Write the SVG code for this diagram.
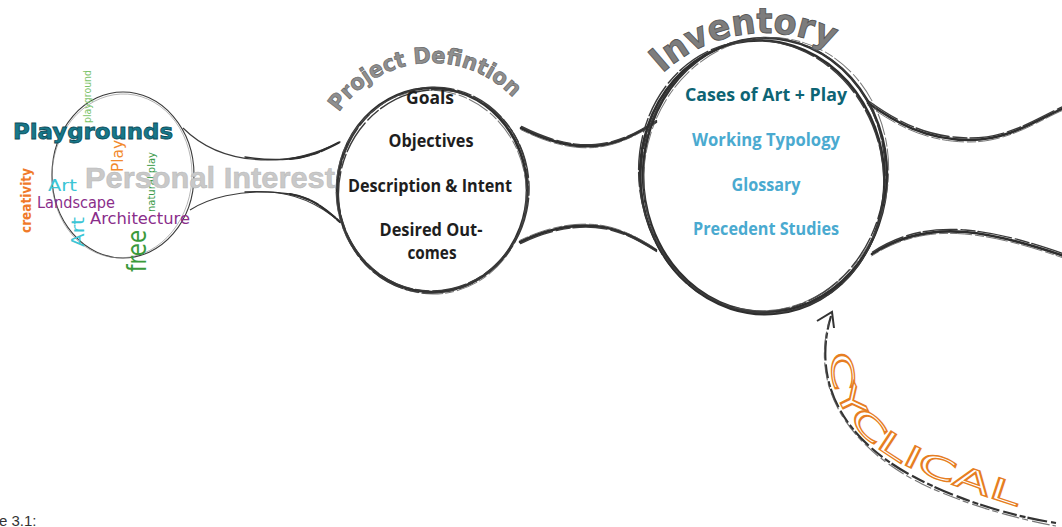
<svg xmlns="http://www.w3.org/2000/svg" xmlns:xlink="http://www.w3.org/1999/xlink" width="1062" height="527" viewBox="0 0 1062 527">
<style>
.k1{fill:none;stroke:#2e2e2e;stroke-width:2.6;stroke-linecap:round}
.k2{fill:none;stroke:#3a3a3a;stroke-width:1.4;stroke-dasharray:34 4 14 3;stroke-linecap:round}
.k3{fill:none;stroke:#555;stroke-width:1;opacity:.8;stroke-dasharray:9 2 22 3}
.thin{fill:none;stroke:#3c3c3c;stroke-width:1.1}
.mid{font-family:"Open Sans","Liberation Sans",sans-serif;font-weight:700;font-size:18px;fill:#1e1e1e;text-anchor:middle}
.inv{font-family:"Open Sans","Liberation Sans",sans-serif;font-weight:700;font-size:18px;text-anchor:middle}
.cloud{font-family:"DejaVu Sans","Liberation Sans",sans-serif}
.arc{font-family:"DejaVu Sans","Liberation Sans",sans-serif;font-weight:700}
</style>
<defs>
<path id="lu" d="M183 128 C205 150 235 160 268 160 C295 160 320 152 340 142"/>
<path id="ll" d="M190 210 C210 197 240 191 268 192 C295 193 320 205 340 222"/>
<path id="mu" d="M521 128 C545 140 570 148 595 146 C620 144 640 132 656 122"/>
<path id="ml" d="M520 242 C545 230 570 224 595 226 C620 228 640 240 656 250"/>
<path id="ru" d="M868 103 C895 122 925 140 970 140 C1010 140 1040 118 1064 108"/>
<path id="rl" d="M872 254 C900 236 930 229 965 232 C1000 235 1035 246 1064 256"/>
<ellipse id="cm" cx="432" cy="190" rx="95" ry="102"/>
<ellipse id="ci" cx="765" cy="175" rx="122" ry="137"/>
<path id="pdArc" d="M320 175 A112 112 0 0 1 544 175"/>
<path id="invArc" d="M615 183 A150 150 0 0 1 915 183"/>
<path id="cycArc" d="M832 350 C825 410 870 455 935 478 C965 489 998 501 1045 515"/>
</defs>

<g id="connectors">
<use href="#lu" class="thin"/>
<use href="#ll" class="thin"/>
<path d="M245 157 C262 160 275 160 290 159 C310 157 325 150 340 142" fill="none" stroke="#333" stroke-width="1.4" stroke-linecap="round"/>
<path d="M290 159 C310 157 325 150 340 142" fill="none" stroke="#2e2e2e" stroke-width="2.2" stroke-linecap="round" stroke-dasharray="20 2 8 2"/>
<path d="M245 192 C262 191 275 192 290 194 C310 197 325 208 340 222" fill="none" stroke="#333" stroke-width="1.4" stroke-linecap="round"/>
<path d="M290 194 C310 197 325 208 340 222" fill="none" stroke="#2e2e2e" stroke-width="2.2" stroke-linecap="round" stroke-dasharray="20 2 8 2"/>
<use href="#mu" class="k1"/><use href="#mu" class="k2" transform="translate(0.5,-1.5)"/><use href="#mu" class="k3" transform="translate(-0.5,1.5)"/>
<use href="#ml" class="k1"/><use href="#ml" class="k2" transform="translate(0.5,1.5)"/><use href="#ml" class="k3" transform="translate(-0.5,-1.5)"/>
<use href="#ru" class="k1" stroke-width="3"/><use href="#ru" class="k2" transform="translate(0.5,-2)"/><use href="#ru" class="k3" transform="translate(-0.5,2)"/>
<use href="#rl" class="k1" stroke-width="3"/><use href="#rl" class="k2" transform="translate(0.5,-2)"/><use href="#rl" class="k3" transform="translate(-0.5,2)"/>
<g id="cyclical-arrow">
<path d="M831 316 C812 380 840 440 920 480 C960 500 1010 516 1056 523" fill="none" stroke="#333" stroke-width="2.2" stroke-dasharray="14 3 6 2 20 4"/>
<path d="M829 322 C812 382 842 444 922 484 C962 503 1012 518 1056 526" fill="none" stroke="#555" stroke-width="1.2" stroke-dasharray="6 4 18 3" opacity=".8"/>
<polyline points="817,321 832,312 834,328" fill="none" stroke="#333" stroke-width="2" stroke-linejoin="miter"/>
</g>
</g>

<g id="node-personal-interest">
<ellipse cx="123" cy="175" rx="71" ry="83" fill="none" stroke="#3c3c3c" stroke-width="1.1"/>
<ellipse cx="122" cy="176" rx="70" ry="82" fill="none" stroke="#888" stroke-width=".6" transform="rotate(4 123 175)"/>
<text class="cloud" transform="translate(91,123) rotate(-90)" font-size="11" fill="#7cc36a" textLength="53" lengthAdjust="spacingAndGlyphs">playground</text>
<text x="13" y="139" font-family="DejaVu Sans,Liberation Sans,sans-serif" font-weight="700" font-size="22" fill="#17788a" stroke="#0b4c5a" stroke-width=".8" textLength="160" lengthAdjust="spacingAndGlyphs">Playgrounds</text>
<text class="cloud" transform="translate(123,172) rotate(-90)" font-size="16" fill="#f28a2e" textLength="32" lengthAdjust="spacingAndGlyphs">Play</text>
<text class="cloud" transform="translate(155,212) rotate(-90)" font-size="11" fill="#3c9a4a" textLength="60" lengthAdjust="spacingAndGlyphs">natural play</text>
<text class="cloud" transform="translate(31,233) rotate(-90)" font-size="14" font-weight="700" fill="#f07a2a" textLength="65" lengthAdjust="spacingAndGlyphs">creativity</text>
<text class="cloud" x="48" y="191" font-size="15" fill="#3cc5d5" textLength="29" lengthAdjust="spacingAndGlyphs">Art</text>
<text class="cloud" x="37" y="208" font-size="16" fill="#8a2d8a" textLength="78" lengthAdjust="spacingAndGlyphs">Landscape</text>
<text class="cloud" x="90" y="224" font-size="15" fill="#8a2d8a" textLength="100" lengthAdjust="spacingAndGlyphs">Architecture</text>
<text class="cloud" transform="translate(84,247) rotate(-90)" font-size="17" fill="#3cc5d5" textLength="30" lengthAdjust="spacingAndGlyphs">Art</text>
<text class="cloud" transform="translate(146,272) rotate(-90)" font-size="26" fill="#3a9a3a" textLength="42" lengthAdjust="spacingAndGlyphs">free</text>
<text x="85" y="188" font-family="Liberation Sans,sans-serif" font-weight="700" font-size="29" fill="#c9c9c9" stroke="#b8b8b8" stroke-width=".5" textLength="250" lengthAdjust="spacingAndGlyphs">Personal Interest</text>
</g>

<g id="node-project-definition">
<use href="#cm" class="k1"/>
<use href="#cm" class="k2" transform="rotate(6 432 190) translate(1,-1)"/>
<use href="#cm" class="k3" transform="rotate(-7 432 190) translate(-1,2)"/>
<use href="#cm" class="k2" transform="rotate(12 432 190) translate(2,1)"/>
<text class="arc" font-size="22" fill="#8f8f8f" stroke="#666" stroke-width=".7"><textPath href="#pdArc" startOffset="47.3%" text-anchor="middle" textLength="200" lengthAdjust="spacingAndGlyphs">Project Defintion</textPath></text>
<text class="mid" x="430" y="104" textLength="48" lengthAdjust="spacingAndGlyphs">Goals</text>
<text class="mid" x="431" y="147" textLength="85" lengthAdjust="spacingAndGlyphs">Objectives</text>
<text class="mid" x="430" y="192" textLength="164" lengthAdjust="spacingAndGlyphs">Description &amp; Intent</text>
<text class="mid" x="431" y="236" textLength="103" lengthAdjust="spacingAndGlyphs">Desired Out-</text>
<text class="mid" x="432" y="259" textLength="49" lengthAdjust="spacingAndGlyphs">comes</text>
</g>

<g id="node-inventory">
<use href="#ci" class="k1" stroke-width="3"/>
<use href="#ci" class="k2" transform="rotate(5 765 175) translate(-2,0)"/>
<use href="#ci" class="k1" stroke-width="1.6" transform="rotate(-6 765 175) translate(-3,2)"/>
<use href="#ci" class="k3" transform="rotate(10 765 175) translate(1,-1)"/>
<use href="#ci" class="k2" transform="rotate(-12 765 175) translate(-4,1)"/>
<text class="arc" font-size="35" fill="#7d7d7d" stroke="#555" stroke-width=".9"><textPath href="#invArc" startOffset="45.3%" text-anchor="middle" textLength="182" lengthAdjust="spacingAndGlyphs">Inventory</textPath></text>
<text class="inv" x="766" y="101" fill="#0d6474" textLength="162" lengthAdjust="spacingAndGlyphs">Cases of Art + Play</text>
<text class="inv" x="766" y="146" fill="#4aaad0" textLength="148" lengthAdjust="spacingAndGlyphs">Working Typology</text>
<text class="inv" x="766" y="191" fill="#4aaad0" textLength="69" lengthAdjust="spacingAndGlyphs">Glossary</text>
<text class="inv" x="766" y="235" fill="#4aaad0" textLength="146" lengthAdjust="spacingAndGlyphs">Precedent Studies</text>
</g>

<g id="label-cyclical">
<text font-family="DejaVu Sans,Liberation Sans,sans-serif" font-size="30" fill="#fff" stroke="#e67e22" stroke-width="1.3"><textPath href="#cycArc" startOffset="3" textLength="262" lengthAdjust="spacingAndGlyphs">CYCLICAL</textPath></text>
</g>

<text x="-1" y="526" font-family="Liberation Sans,sans-serif" font-size="15" fill="#333">e 3.1:</text>
</svg>
